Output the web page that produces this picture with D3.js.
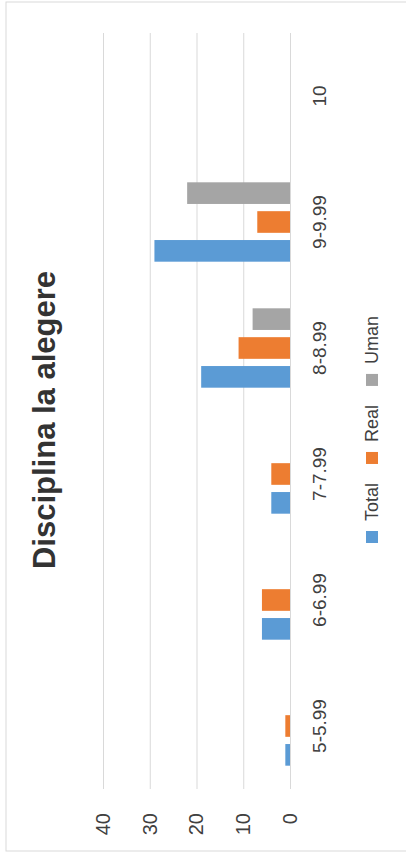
<!DOCTYPE html>
<html>
<head>
<meta charset="utf-8">
<script src="https://cdn.jsdelivr.net/npm/d3@7"></script>
<style>
  html, body { margin: 0; padding: 0; background: #fff; }
  text { font-family: "Liberation Sans", Arial, sans-serif; }
</style>
</head>
<body>
<div id="chart"></div>
<script>
// Data
var categories = ["5-5.99", "6-6.99", "7-7.99", "8-8.99", "9-9.99", "10"];
var seriesNames = ["Total", "Real", "Uman"];
var seriesColors = ["#5b9bd5", "#ed7d31", "#a5a5a5"];
var totalValues = [1, 6, 4, 19, 29, 0];
var realValues = [1, 6, 4, 11, 7, 0];
var umanValues = [0, 0, 0, 8, 22, 0];
var valueTicks = [0, 10, 20, 30, 40];
var chartTitle = "Disciplina la alegere";

var Page = { width: 406, height: 854 };

// Chart is drawn in its own landscape frame, then turned a quarter turn
var Frame = {
    left: 65,     // first category edge
    right: 821,   // last category edge
    top: 103,     // value 40
    bottom: 290   // value 0
};

var svg = d3.select("#chart")
            .append("svg")
            .attr("width", Page.width)
            .attr("height", Page.height);

svg.append("rect")
   .attr("x", 6)
   .attr("y", 2)
   .attr("width", 430)
   .attr("height", 849)
   .style("fill", "#fff")
   .style("stroke", "#d9d9d9");

var canvas = svg.append("g")
                .attr("transform", "translate(0," + Page.height + ") rotate(-90)");

var xAxis = d3.scaleBand()
              .domain(categories)
              .range([Frame.left, Frame.right])
              .paddingInner(0.37)
              .paddingOuter(0.185);

var xSeries = d3.scaleBand()
                .domain(seriesNames)
                .range([0, xAxis.bandwidth()])
                .paddingInner(0.25);

var yAxis = d3.scaleLinear()
              .domain([0, 40])
              .range([Frame.bottom, Frame.top]);

// Value axis with gridlines
var valueAxis = canvas.append("g")
      .attr("transform", "translate(" + Frame.left + ",0)")
      .call(d3.axisLeft(yAxis)
              .tickValues(valueTicks)
              .tickSize(-(Frame.right - Frame.left))
              .tickPadding(24));
valueAxis.select(".domain").remove();
valueAxis.selectAll("line").style("stroke", "#d9d9d9");
valueAxis.selectAll("text")
         .style("font-size", "20px")
         .style("fill", "#404040");

// Bars
var table = categories.map(function(cat, i)
{
    return { cat: cat, values: [totalValues[i], realValues[i], umanValues[i]] };
});

var groups = canvas.selectAll(".group")
                   .data(table)
                   .enter()
                   .append("g")
                   .attr("class", "group")
                   .attr("transform", function(d){ return "translate(" + xAxis(d.cat) + ",0)"; });

groups.selectAll("rect")
      .data(function(d){ return d.values.map(function(v, k){ return { name: seriesNames[k], value: v, color: seriesColors[k] }; }); })
      .enter()
      .append("rect")
      .attr("x", function(d){ return xSeries(d.name); })
      .attr("width", xSeries.bandwidth())
      .attr("y", function(d){ return yAxis(d.value); })
      .attr("height", function(d){ return yAxis(0) - yAxis(d.value); })
      .style("fill", function(d){ return d.color; });

// Category axis
var catAxis = canvas.append("g")
      .attr("transform", "translate(0," + Frame.bottom + ")")
      .call(d3.axisBottom(xAxis).tickSize(0).tickPadding(23));
catAxis.select(".domain").remove();
catAxis.selectAll("text")
       .style("font-size", "19px")
       .style("fill", "#404040");

// Title
canvas.append("text")
      .attr("x", 434)
      .attr("y", 55)
      .attr("text-anchor", "middle")
      .style("font-size", "31px")
      .style("font-weight", "bold")
      .style("fill", "#333")
      .text(chartTitle);

// Legend
var legend = canvas.append("g").attr("transform", "translate(311,0)");
var legendX = 0;
seriesNames.forEach(function(name, k)
{
    var item = legend.append("g").attr("transform", "translate(" + legendX + ",0)");
    item.append("rect")
        .attr("x", 0)
        .attr("y", 366)
        .attr("width", 12)
        .attr("height", 12)
        .style("fill", seriesColors[k]);
    var label = item.append("text")
        .attr("x", 22)
        .attr("y", 378)
        .style("font-size", "18px")
        .style("fill", "#404040")
        .text(name);
    legendX += 22 + label.node().getComputedTextLength() + 19;
});
</script>
</body>
</html>
